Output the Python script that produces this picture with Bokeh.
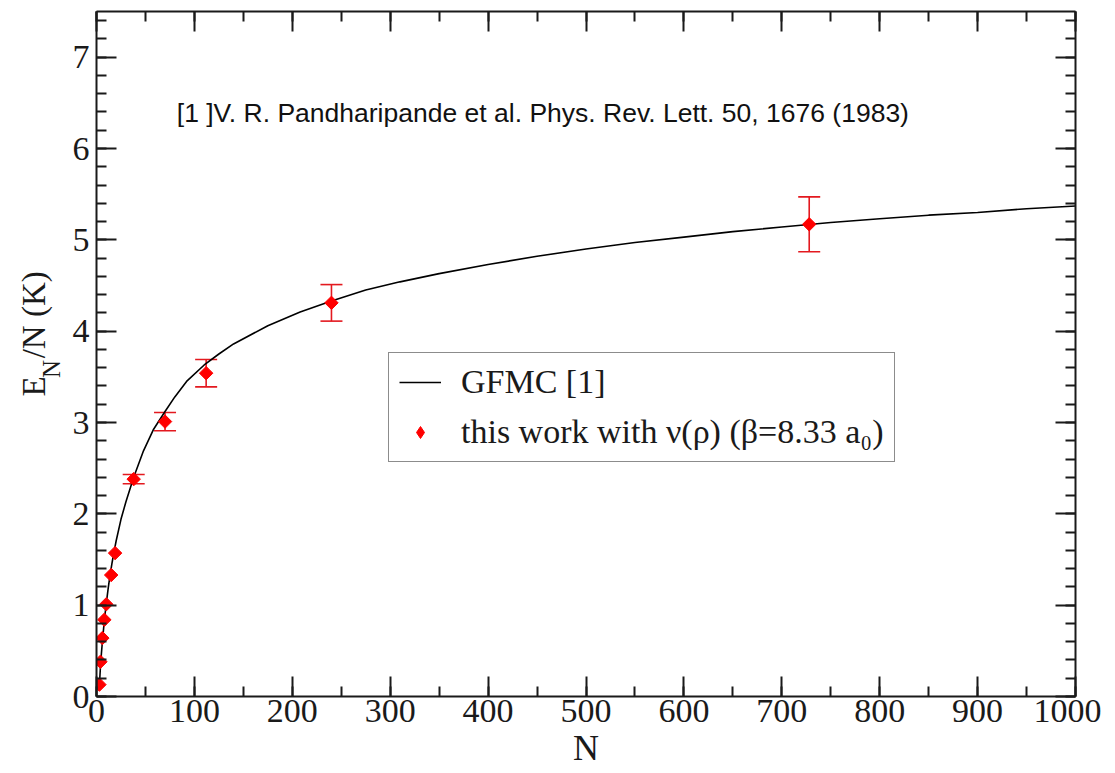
import math
from bokeh.plotting import figure
from bokeh.layouts import row
from bokeh.models import (ColumnDataSource, Whisker, TeeHead, LinearAxis, SingleIntervalTicker,
                          Range1d, Label, Legend, LegendItem)
from bokeh.core.properties import value
from bokeh.embed import file_html
from bokeh.resources import INLINE

# ---- data ----
gfmc_n = [3, 4, 5, 6, 8, 10, 12, 14, 16, 18, 20, 25, 30, 38, 48, 58, 70, 80, 92, 110,
          125, 140, 175, 208, 240, 275, 310, 350, 400, 450, 500, 550, 600, 650, 700,
          750, 800, 850, 900, 950, 1000]
gfmc_e = [0.13, 0.32, 0.47, 0.60, 0.83, 1.02, 1.19, 1.34, 1.47, 1.59, 1.70, 1.94, 2.13,
          2.40, 2.69, 2.92, 3.12, 3.28, 3.45, 3.63, 3.75, 3.86, 4.06, 4.21, 4.33, 4.45,
          4.54, 4.63, 4.73, 4.82, 4.90, 4.97, 5.03, 5.09, 5.14, 5.19, 5.23, 5.27, 5.30,
          5.34, 5.37]

work_n = [3, 4, 6, 8, 10, 15, 19, 38, 70, 112, 240, 728]
work_e = [0.13, 0.38, 0.64, 0.84, 1.01, 1.33, 1.57, 2.38, 3.01, 3.54, 4.31, 5.17]
work_err = [0, 0, 0, 0, 0, 0, 0, 0.05, 0.10, 0.15, 0.20, 0.30]

x_ticks_interval = 100
y_ticks_interval = 1

legend_gfmc = "GFMC [1]"
legend_work = "this work with \u03bd(\u03c1) (\u03b2=8.33 a\u2080)"
ref_text = "[1 ]V. R. Pandharipande et al. Phys. Rev. Lett. 50, 1676 (1983)"
ylabel_parts = ["E", "N", "/N (K)"]

SERIF = "Liberation Serif"
SANS = "Liberation Sans"
RED = "#ff0000"
ERR_RED = "#e3191f"
INK = "#1a1a1a"

LABEL_W = 68
FIG_H = 768

p = figure(frame_width=979, frame_height=685,
           x_range=Range1d(0, 1000), y_range=Range1d(0, 7.5),
           output_backend="svg", toolbar_location=None,
           min_border_left=96 - LABEL_W, min_border_right=26, min_border_top=11,
           min_border_bottom=10)
p.outline_line_color = None
p.xgrid.visible = False
p.ygrid.visible = False

p.add_layout(LinearAxis(), "above")
p.add_layout(LinearAxis(), "right")

def style_axis(ax, ticker, show_labels):
    ax.ticker = ticker
    ax.axis_line_width = 2
    ax.axis_line_color = INK
    ax.major_tick_in = 20
    ax.major_tick_out = 0
    ax.minor_tick_in = 10
    ax.minor_tick_out = 0
    ax.major_tick_line_width = 2
    ax.minor_tick_line_width = 2
    ax.major_tick_line_color = INK
    ax.minor_tick_line_color = INK
    if show_labels:
        ax.major_label_text_font = SERIF
        ax.major_label_text_font_size = "34px"
        ax.major_label_text_color = INK
    else:
        ax.major_label_text_font_size = "1px"
        ax.major_label_text_color = None
        ax.major_label_standoff = 0

for ax in p.xaxis:
    style_axis(ax, SingleIntervalTicker(interval=x_ticks_interval, num_minor_ticks=2),
               ax in p.below)
for ax in p.yaxis:
    style_axis(ax, SingleIntervalTicker(interval=y_ticks_interval, num_minor_ticks=5),
               ax in p.left)

xb = p.below[0]
xb.major_label_standoff = 3
xb.axis_label = "N"
xb.axis_label_text_font = SERIF
xb.axis_label_text_font_style = "normal"
xb.axis_label_text_font_size = "36px"
xb.axis_label_text_color = INK
xb.axis_label_standoff = 3
p.left[0].major_label_standoff = 7

# GFMC curve
curve = p.line(gfmc_n, gfmc_e, line_color="black", line_width=1.6)

# error bars
eb_n = [n for n, s in zip(work_n, work_err) if s > 0]
eb_up = [e + s for e, s in zip(work_e, work_err) if s > 0]
eb_lo = [e - s for e, s in zip(work_e, work_err) if s > 0]
eb_src = ColumnDataSource(dict(base=eb_n, upper=eb_up, lower=eb_lo))
p.add_layout(Whisker(source=eb_src, base="base", upper="upper", lower="lower",
                     dimension="height", line_color=ERR_RED, line_width=1.6,
                     upper_head=TeeHead(size=22, line_color=ERR_RED, line_width=1.6),
                     lower_head=TeeHead(size=22, line_color=ERR_RED, line_width=1.6)))

# data points (diamonds = squares rotated 45 deg)
pts = p.scatter(work_n, work_e, marker="square", angle=math.pi / 4, size=9.5,
                fill_color=RED, line_color=RED)
# hidden proxy used only for the legend glyph
proxy = p.scatter(work_n, work_e, marker="diamond", size=12, fill_color=RED,
                  line_color=RED, visible=False)

legend = Legend(items=[LegendItem(label=legend_gfmc, renderers=[curve]),
                       LegendItem(label=legend_work, renderers=[proxy])],
                location=(292, 234), orientation="vertical", click_policy="none",
                label_text_font=SERIF, label_text_font_size="34px",
                label_text_color=INK,
                glyph_width=42, glyph_height=30, label_standoff=20,
                padding=10, spacing=12, margin=0,
                border_line_color=INK, border_line_width=1.5,
                background_fill_color="white", background_fill_alpha=1)
p.add_layout(legend, "center")

# reference text
p.add_layout(Label(x=82, y=6.394, text=ref_text, text_font=SANS, text_font_size="26.5px",
                   text_baseline="middle", text_align="left", text_color="#111111"))

# ---- y-axis title panel (rotated, with subscript) ----
lab = figure(width=LABEL_W, height=FIG_H, x_range=Range1d(0, LABEL_W),
             y_range=Range1d(FIG_H, 0), output_backend="svg", toolbar_location=None,
             x_axis_type=None, y_axis_type=None, min_border=0)
lab.outline_line_color = None
lab.xgrid.visible = False
lab.ygrid.visible = False
lab_src = ColumnDataSource(dict(x=[33, 51, 33], y=[433, 412, 390], t=ylabel_parts,
                                s=["33px", "25px", "33px"]))
lab.text(x="x", y="y", text="t", source=lab_src, angle=math.pi / 2,
         text_font=value(SERIF), text_font_size="s", text_align="left",
         text_baseline="alphabetic", text_color=INK)

layout = row(lab, p)
open("out.html", "w").write(file_html(layout, INLINE))
